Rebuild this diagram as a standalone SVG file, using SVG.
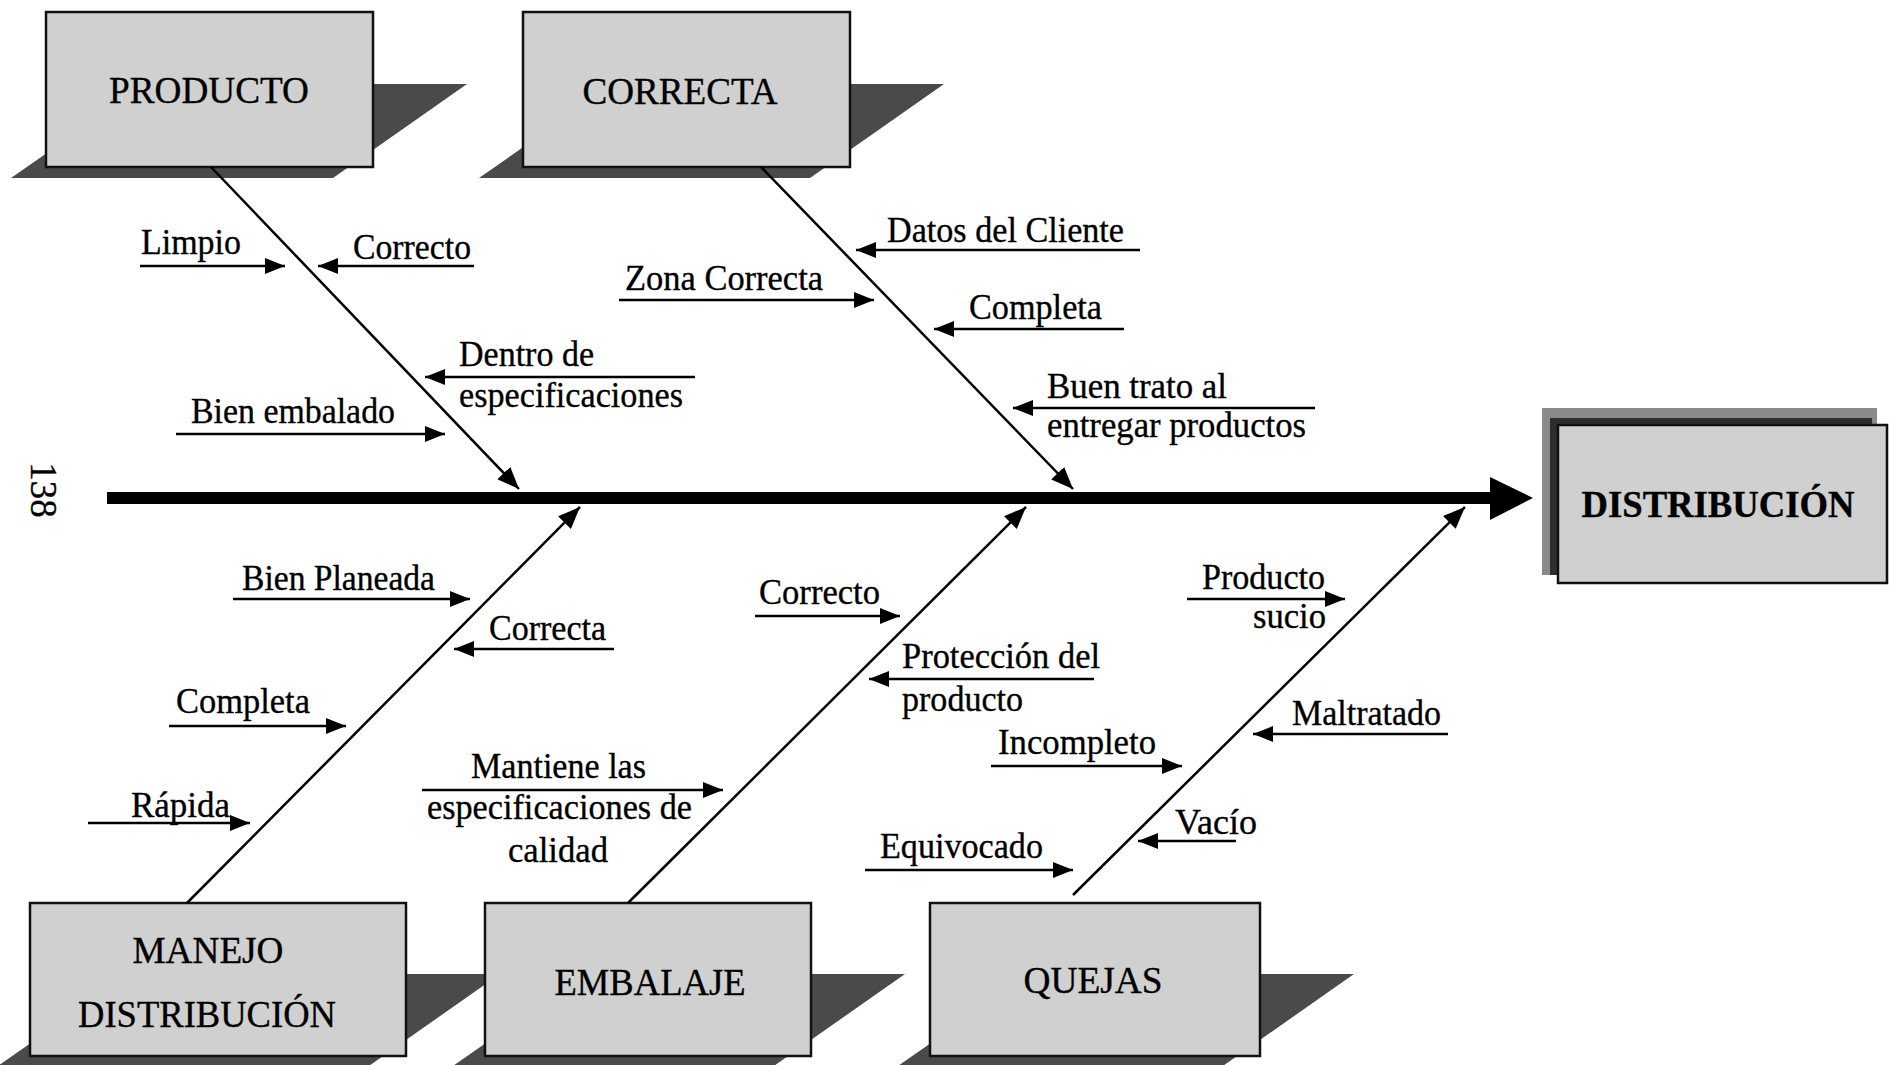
<svg xmlns="http://www.w3.org/2000/svg" width="1895" height="1065" viewBox="0 0 1895 1065">
<style>
text{font-family:"Liberation Serif","Times New Roman",serif;fill:#000;stroke:#000;stroke-width:0.35}
.lbl text{font-size:36px}
.box{fill:#d0d0d0;stroke:#111;stroke-width:2.5}
.shd{fill:#4a4a4a}
.bt{font-size:37px;text-anchor:middle}
.ar{stroke:#000;stroke-width:2.5;fill:none;marker-end:url(#ah)}
.br{stroke:#000;stroke-width:2.5;fill:none;marker-end:url(#bh)}
</style>
<defs>
<marker id="ah" viewBox="0 0 20 16" refX="20" refY="8" markerWidth="20" markerHeight="16" markerUnits="userSpaceOnUse" orient="auto"><path d="M0,0 L20,8 L0,16 Z" fill="#000"/></marker>
<marker id="bh" viewBox="0 0 22 18" refX="22" refY="9" markerWidth="22" markerHeight="18" markerUnits="userSpaceOnUse" orient="auto"><path d="M0,0 L22,9 L0,18 Z" fill="#000"/></marker>
</defs>
<rect width="1895" height="1065" fill="#fff"/>

<g id="node-producto">
<polygon class="shd" points="146,84 467,84 333,178 11,178"/>
<rect class="box" x="46" y="12" width="327" height="155"/>
<text class="bt" x="209" y="103" textLength="200" lengthAdjust="spacingAndGlyphs">PRODUCTO</text>
</g>
<g id="node-correcta">
<polygon class="shd" points="614,84 944,84 810,178 479,178"/>
<rect class="box" x="523" y="12" width="327" height="155"/>
<text class="bt" x="680" y="104" textLength="195" lengthAdjust="spacingAndGlyphs">CORRECTA</text>
</g>
<g id="node-distribucion">
<rect x="1542" y="408" width="335" height="167" fill="#8a8a8a"/>
<rect x="1550" y="418" width="322" height="157" fill="#2e2e2e"/>
<rect class="box" x="1558" y="425" width="329" height="158"/>
<text class="bt" x="1718" y="517" font-weight="bold" textLength="273" lengthAdjust="spacingAndGlyphs">DISTRIBUCIÓN</text>
</g>
<g id="node-manejo">
<polygon class="shd" points="130,974 500,974 366,1068 -5,1068"/>
<rect class="box" x="30" y="903" width="376" height="153"/>
<text class="bt" x="208" y="963" textLength="151" lengthAdjust="spacingAndGlyphs">MANEJO</text>
<text class="bt" x="207" y="1027" textLength="258" lengthAdjust="spacingAndGlyphs">DISTRIBUCIÓN</text>
</g>
<g id="node-embalaje">
<polygon class="shd" points="585,974 905,974 771,1068 450,1068"/>
<rect class="box" x="485" y="903" width="326" height="153"/>
<text class="bt" x="650" y="995" textLength="191" lengthAdjust="spacingAndGlyphs">EMBALAJE</text>
</g>
<g id="node-quejas">
<polygon class="shd" points="1030,974 1354,974 1220,1068 895,1068"/>
<rect class="box" x="930" y="903" width="330" height="153"/>
<text class="bt" x="1093" y="993" textLength="139" lengthAdjust="spacingAndGlyphs">QUEJAS</text>
</g>

<g id="connectors">
<rect x="107" y="492" width="1385" height="12" fill="#000"/>
<polygon points="1490,477 1533,498 1490,520" fill="#000"/>
<line class="br" x1="211" y1="167" x2="519" y2="489"/>
<line class="br" x1="761" y1="167" x2="1073" y2="489"/>
<line class="br" x1="187" y1="903" x2="580" y2="507"/>
<line class="br" x1="628" y1="903" x2="1026" y2="507"/>
<line class="br" x1="1073" y1="895" x2="1465" y2="507"/>

<line class="ar" x1="140" y1="266" x2="285" y2="266"/>
<line class="ar" x1="474" y1="266" x2="318" y2="266"/>
<line class="ar" x1="695" y1="377" x2="425" y2="377"/>
<line class="ar" x1="176" y1="434" x2="445" y2="434"/>
<line class="ar" x1="1140" y1="250" x2="856" y2="250"/>
<line class="ar" x1="619" y1="300" x2="874" y2="300"/>
<line class="ar" x1="1124" y1="329" x2="934" y2="329"/>
<line class="ar" x1="1315" y1="408" x2="1013" y2="408"/>
<line class="ar" x1="233" y1="599" x2="470" y2="599"/>
<line class="ar" x1="614" y1="649" x2="454" y2="649"/>
<line class="ar" x1="169" y1="726" x2="346" y2="726"/>
<line class="ar" x1="88" y1="823" x2="250" y2="823"/>
<line class="ar" x1="755" y1="616" x2="900" y2="616"/>
<line class="ar" x1="1094" y1="679" x2="869" y2="679"/>
<line class="ar" x1="422" y1="790" x2="723" y2="790"/>
<line class="ar" x1="991" y1="766" x2="1182" y2="766"/>
<line class="ar" x1="865" y1="870" x2="1073" y2="870"/>
<line class="ar" x1="1187" y1="599" x2="1345" y2="599"/>
<line class="ar" x1="1448" y1="734" x2="1253" y2="734"/>
<line class="ar" x1="1236" y1="841" x2="1138" y2="841"/>
</g>

<g id="labels" class="lbl">
<text x="141" y="254" textLength="100" lengthAdjust="spacingAndGlyphs">Limpio</text>
<text x="353" y="259" textLength="118" lengthAdjust="spacingAndGlyphs">Correcto</text>
<text x="459" y="366" textLength="135" lengthAdjust="spacingAndGlyphs">Dentro de</text>
<text x="459" y="407" textLength="224" lengthAdjust="spacingAndGlyphs">especificaciones</text>
<text x="191" y="423" textLength="204" lengthAdjust="spacingAndGlyphs">Bien embalado</text>
<text x="887" y="242" textLength="237" lengthAdjust="spacingAndGlyphs">Datos del Cliente</text>
<text x="625" y="290" textLength="198" lengthAdjust="spacingAndGlyphs">Zona Correcta</text>
<text x="969" y="319" textLength="133" lengthAdjust="spacingAndGlyphs">Completa</text>
<text x="1047" y="398" textLength="180" lengthAdjust="spacingAndGlyphs">Buen trato al</text>
<text x="1047" y="437" textLength="259" lengthAdjust="spacingAndGlyphs">entregar productos</text>
<text x="242" y="590" textLength="193" lengthAdjust="spacingAndGlyphs">Bien Planeada</text>
<text x="489" y="640" textLength="117" lengthAdjust="spacingAndGlyphs">Correcta</text>
<text x="176" y="713" textLength="134" lengthAdjust="spacingAndGlyphs">Completa</text>
<text x="131" y="817" textLength="99" lengthAdjust="spacingAndGlyphs">Rápida</text>
<text x="759" y="604" textLength="121" lengthAdjust="spacingAndGlyphs">Correcto</text>
<text x="902" y="668" textLength="198" lengthAdjust="spacingAndGlyphs">Protección del</text>
<text x="902" y="711" textLength="121" lengthAdjust="spacingAndGlyphs">producto</text>
<text x="471" y="778" textLength="175" lengthAdjust="spacingAndGlyphs">Mantiene las</text>
<text x="427" y="819" textLength="265" lengthAdjust="spacingAndGlyphs">especificaciones de</text>
<text x="508" y="862" textLength="100" lengthAdjust="spacingAndGlyphs">calidad</text>
<text x="998" y="754" textLength="158" lengthAdjust="spacingAndGlyphs">Incompleto</text>
<text x="880" y="858" textLength="163" lengthAdjust="spacingAndGlyphs">Equivocado</text>
<text x="1202" y="589" textLength="123" lengthAdjust="spacingAndGlyphs">Producto</text>
<text x="1253" y="628" textLength="73" lengthAdjust="spacingAndGlyphs">sucio</text>
<text x="1292" y="725" textLength="149" lengthAdjust="spacingAndGlyphs">Maltratado</text>
<text x="1175" y="834" textLength="82" lengthAdjust="spacingAndGlyphs">Vacío</text>
</g>
<text transform="translate(31,490) rotate(90)" font-size="37" text-anchor="middle">138</text>
</svg>
